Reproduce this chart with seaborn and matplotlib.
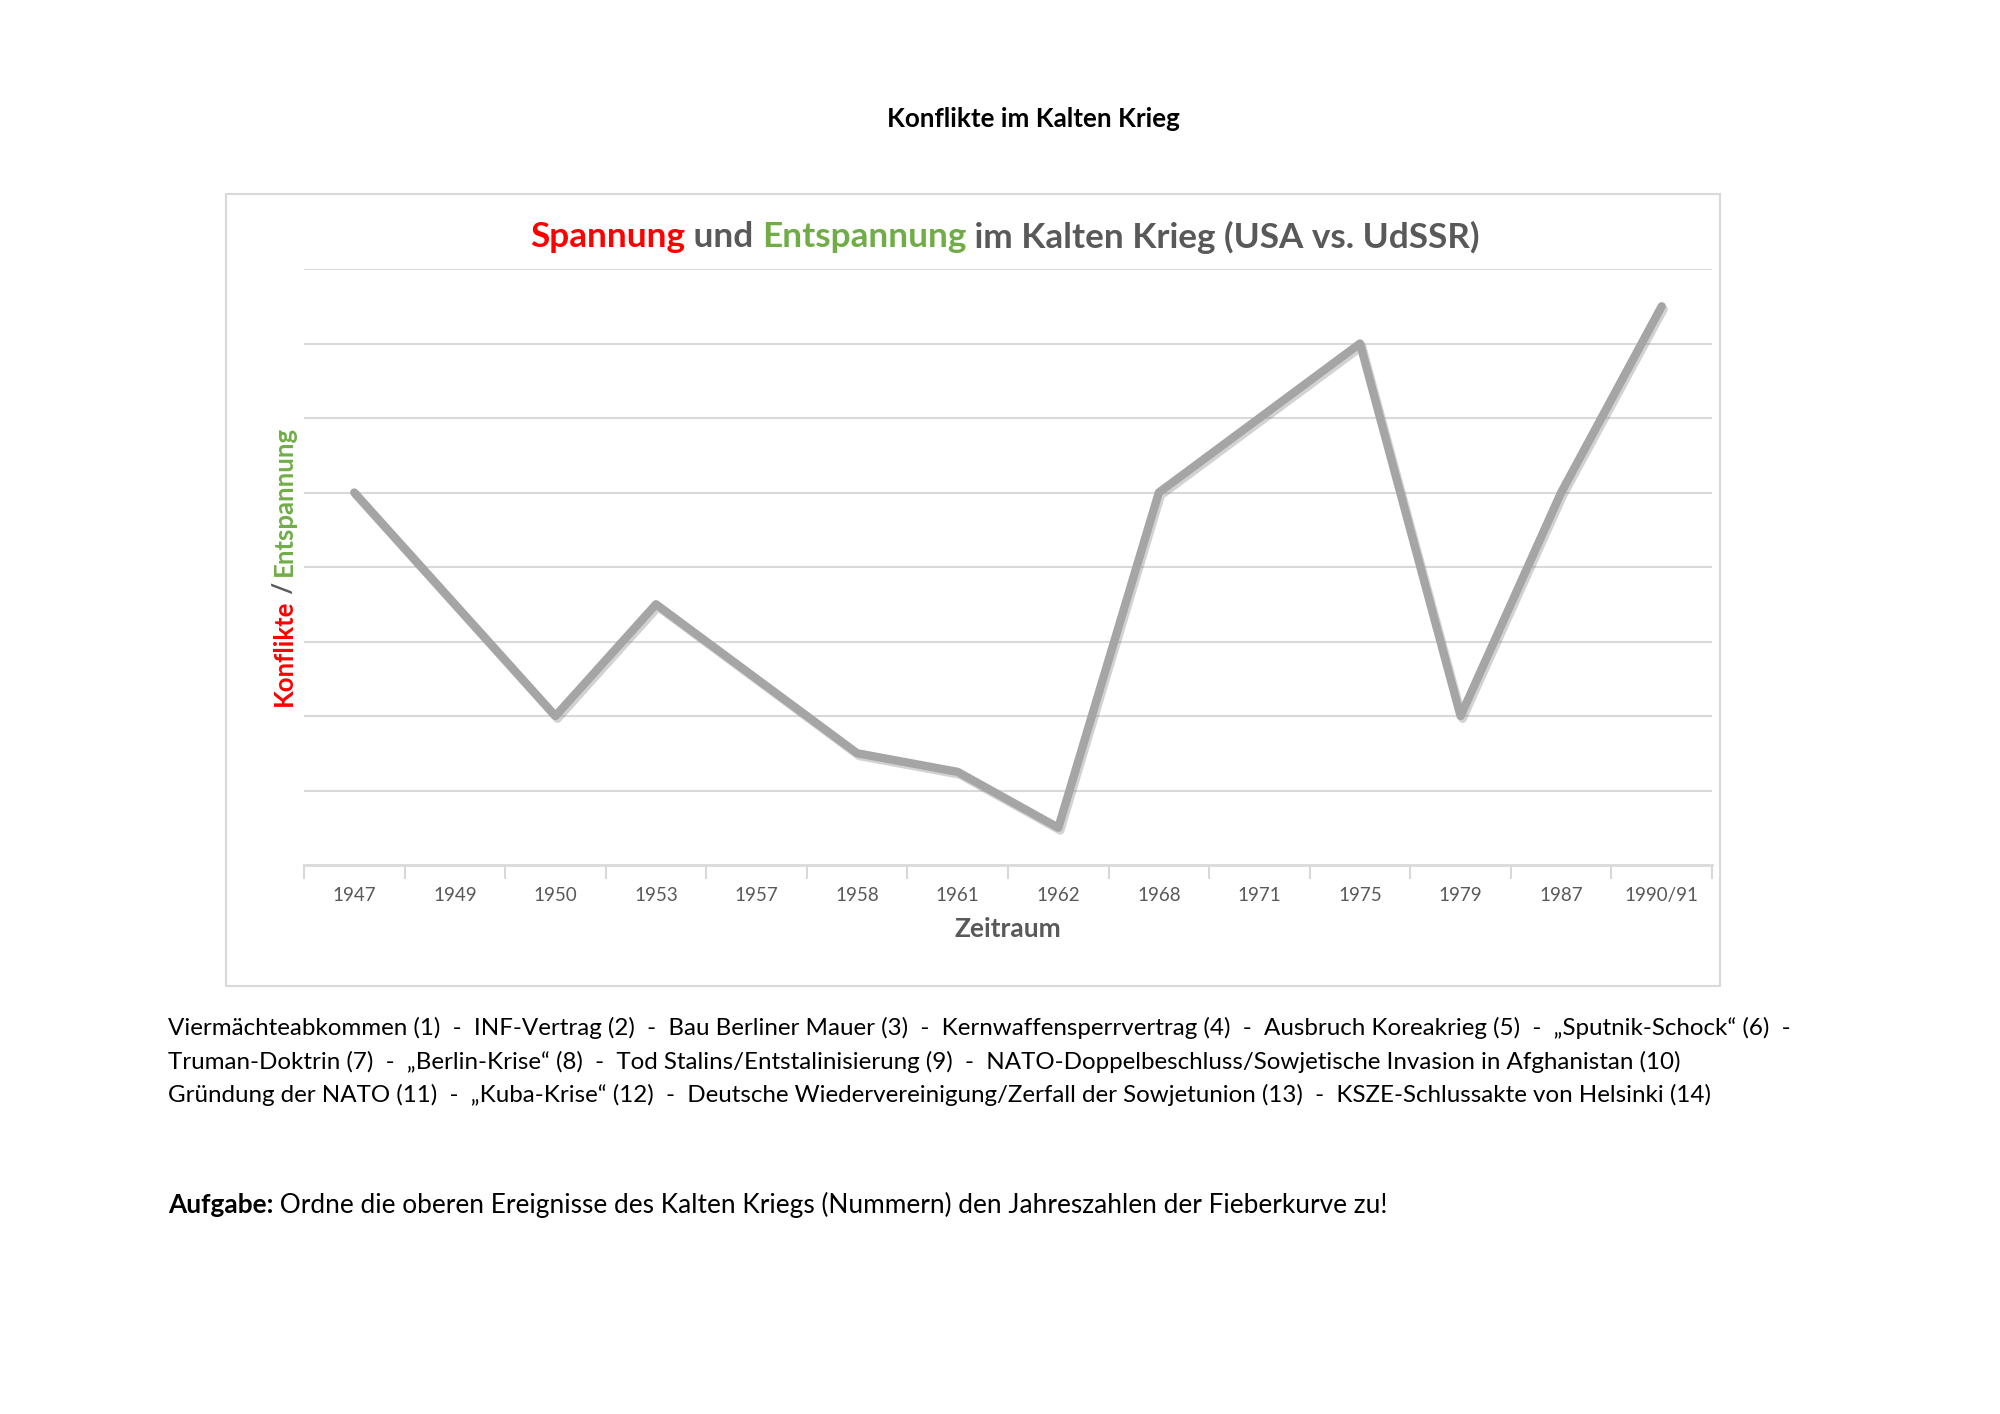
import matplotlib
matplotlib.use("Agg")
import matplotlib.pyplot as plt
import seaborn as sns
import pandas as pd
import numpy as np
from matplotlib import patheffects as pe
from matplotlib.patches import Rectangle
from matplotlib.ticker import FixedLocator

# ---- data ----
years = ["1947", "1949", "1950", "1953", "1957", "1958", "1961", "1962",
         "1968", "1971", "1975", "1979", "1987", "1990/91"]
values = [5, 3.5, 2, 3.5, 2.5, 1.5, 1.25, 0.5, 5, 6, 7, 2, 5, 7.5]

page_title = "Konflikte im Kalten Krieg"
chart_title = [("Spannung", "#FF0000"), (" und ", "#595959"),
               ("Entspannung", "#70AD47"), (" im Kalten Krieg (USA vs. UdSSR)", "#595959")]
ylabel_parts = [("Konflikte", "#FF0000"), (" / ", "#595959"), ("Entspannung", "#70AD47")]
xlabel = "Zeitraum"
legend_lines = [
    "Viermächteabkommen (1)  -  INF-Vertrag (2)  -  Bau Berliner Mauer (3)  -  Kernwaffensperrvertrag (4)  -  Ausbruch Koreakrieg (5)  -  „Sputnik-Schock“ (6)  -",
    "Truman-Doktrin (7)  -  „Berlin-Krise“ (8)  -  Tod Stalins/Entstalinisierung (9)  -  NATO-Doppelbeschluss/Sowjetische Invasion in Afghanistan (10)",
    "Gründung der NATO (11)  -  „Kuba-Krise“ (12)  -  Deutsche Wiedervereinigung/Zerfall der Sowjetunion (13)  -  KSZE-Schlussakte von Helsinki (14)",
]
task_parts = [("Aufgabe:", "bold"), (" Ordne die oberen Ereignisse des Kalten Kriegs (Nummern) den Jahreszahlen der Fieberkurve zu!", "normal")]

sns.set_theme(style="white")
plt.rcParams["font.family"] = ["Lato", "DejaVu Sans"]

W, H = 2000, 1414
fig = plt.figure(figsize=(W / 100, H / 100), dpi=100)
fig.patch.set_facecolor("white")

def fx(x):
    return x / W

def fy(y):
    return 1 - y / H

# chart frame
fig.patches.append(Rectangle((fx(226), fy(986)), fx(1720) - fx(226), fy(194) - fy(986),
                             transform=fig.transFigure, fill=False,
                             edgecolor="#D9D9D9", linewidth=1.5))

ax = fig.add_axes([fx(304), fy(865), fx(1712) - fx(304), fy(269) - fy(865)])
df = pd.DataFrame({"Zeitraum": years, "Wert": values})
sns.lineplot(data=df, x="Zeitraum", y="Wert", sort=False, ax=ax,
             color="#A5A5A5", linewidth=6,
             path_effects=[pe.SimpleLineShadow(offset=(1.5, -2), shadow_color="#7f7f7f", alpha=0.35),
                           pe.Normal()])
ax.set_xlim(-0.5, len(years) - 0.5)
ax.set_ylim(0, 8)
ax.set_yticks(np.arange(1, 9))
ax.set_yticklabels([])
ax.yaxis.grid(True, color="#D9D9D9", linewidth=1.5)
ax.xaxis.grid(False)
ax.tick_params(axis="y", length=0)
ax.set_xticks(range(len(years)))
ax.set_xticklabels(years)
ax.tick_params(axis="x", which="major", length=0, pad=16, labelsize=13.5, labelcolor="#595959")
ax.xaxis.set_minor_locator(FixedLocator(np.arange(-0.5, len(years), 1.0)))
ax.tick_params(axis="x", which="minor", length=10, width=1.5, color="#D9D9D9", bottom=True)
for s in ["top", "left", "right"]:
    ax.spines[s].set_visible(False)
ax.spines["bottom"].set_color("#D9D9D9")
ax.spines["bottom"].set_linewidth(2)
ax.set_xlabel("")
ax.set_ylabel("")
ax.set_facecolor("white")

fig.text(fx(1008), fy(929), xlabel, ha="center", va="center", fontsize=19,
         fontweight="bold", color="#595959")

fig.text(fx(1033), fy(119), page_title, ha="center", va="center", fontsize=18.7,
         fontweight="bold", color="black")

renderer = fig.canvas.get_renderer()

def text_width(s, **kw):
    t = fig.text(0, 0, s + "x", **kw)
    w1 = t.get_window_extent(renderer).width
    t.remove()
    t = fig.text(0, 0, "x", **kw)
    w2 = t.get_window_extent(renderer).width
    t.remove()
    return w1 - w2

def multi_text(parts, cx, cy, size, vertical=False, align="center"):
    # parts: list of (text, color, weight)
    widths = [text_width(p[0], fontsize=size, fontweight=p[2]) for p in parts]
    total = sum(widths)
    start = -total / 2 if align == "center" else 0
    off = start
    for (txt, col, wgt), w in zip(parts, widths):
        if vertical:
            fig.text(fx(cx), fy(cy - off), txt, ha="left", va="center", rotation=90,
                     rotation_mode="anchor", fontsize=size, fontweight=wgt, color=col)
        else:
            fig.text(fx(cx + off), fy(cy), txt, ha="left", va="center",
                     fontsize=size, fontweight=wgt, color=col)
        off += w

multi_text([(t, c, "bold") for t, c in chart_title], 1005, 237, 25.3)
multi_text([(t, c, "bold") for t, c in ylabel_parts], 284, 566, 18.5, vertical=True)

for i, line in enumerate(legend_lines):
    fig.text(fx(168), fy(1028 + i * 33.5), line, ha="left", va="center", fontsize=17.4, color="black")

multi_text([(task_parts[0][0], "black", "bold"), (task_parts[1][0], "black", "normal")],
           168, 1205, 18.9, align="left")

fig.savefig("out.png", dpi=100, facecolor="white")
